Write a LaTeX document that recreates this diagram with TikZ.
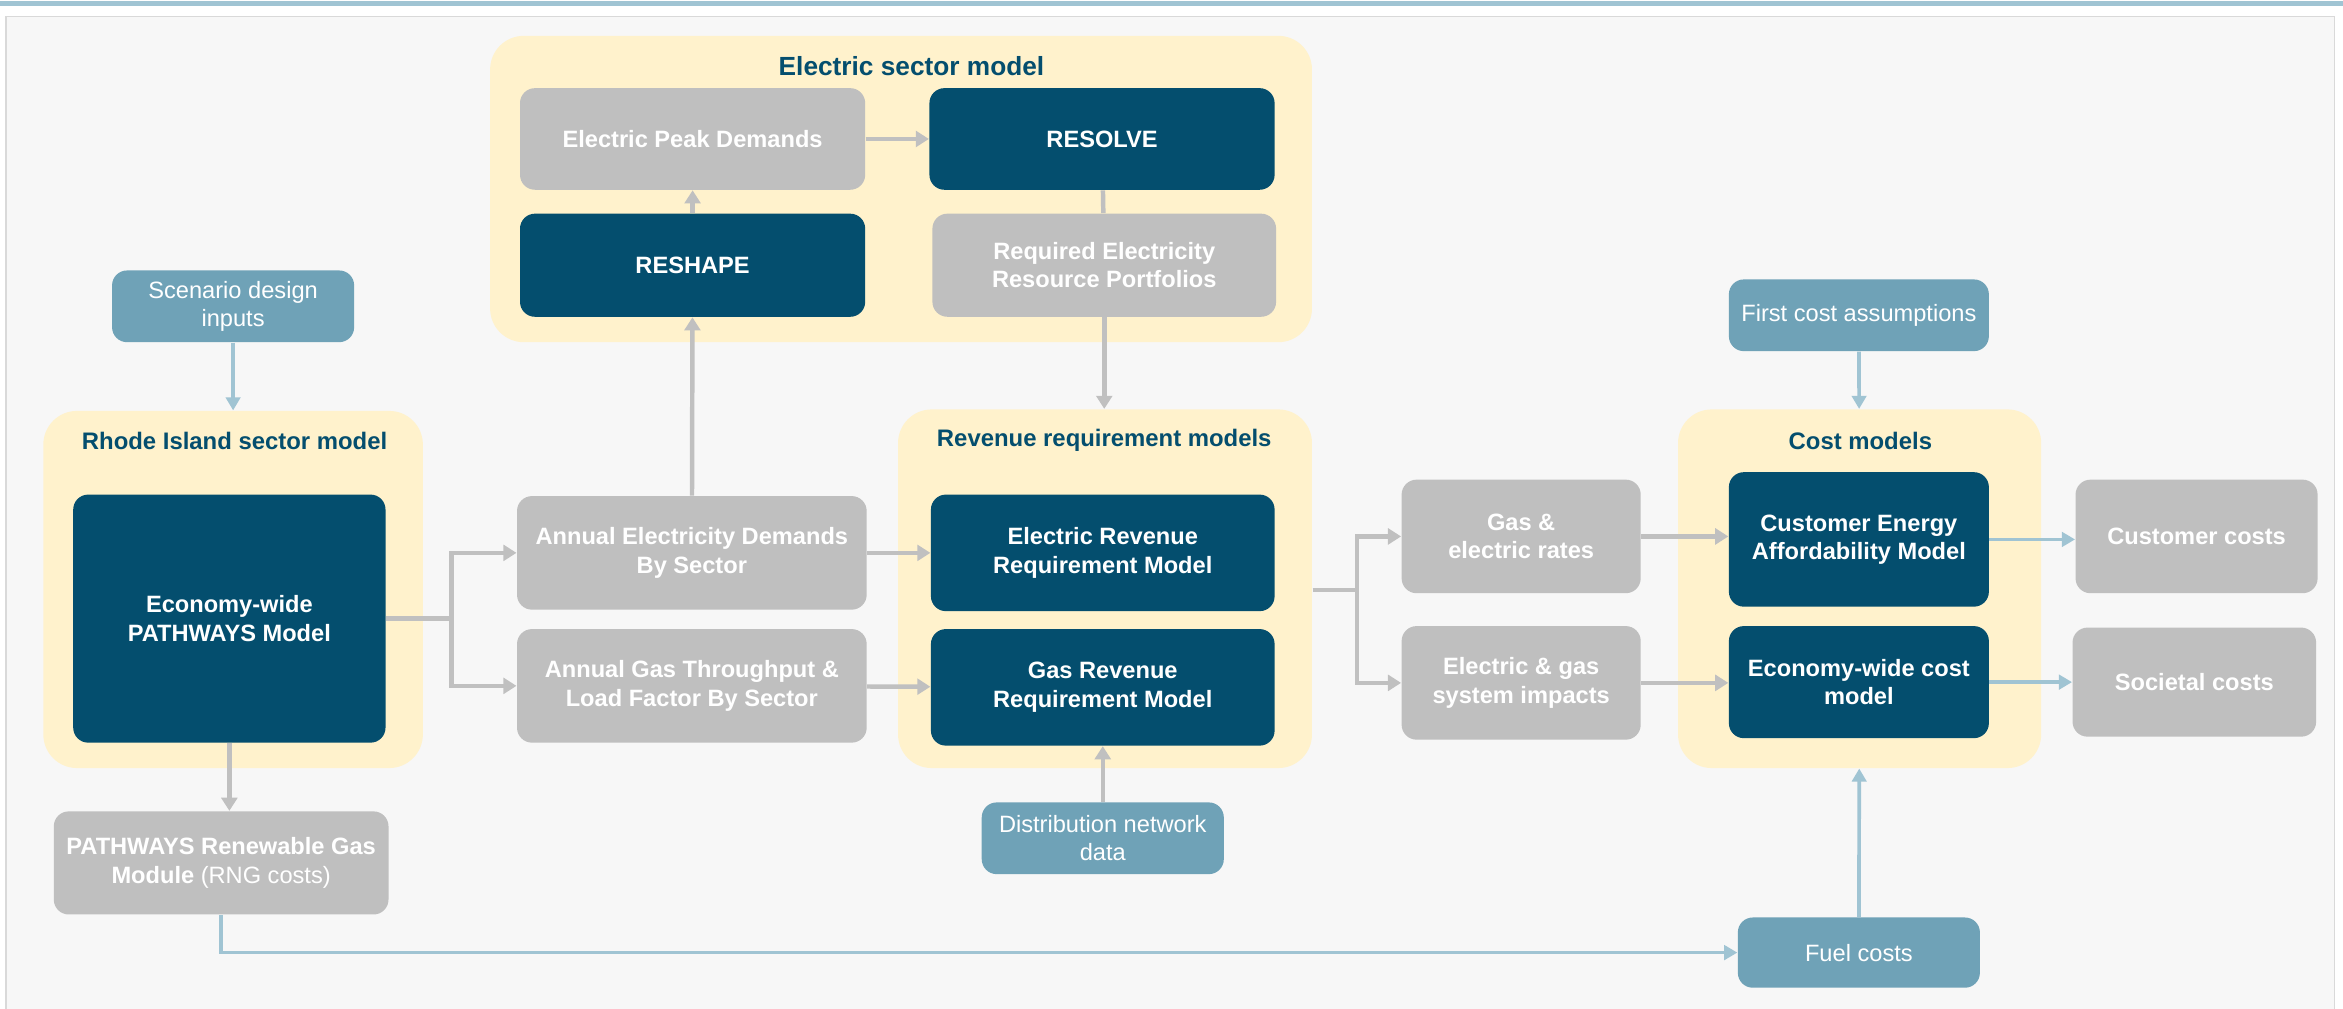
\documentclass[tikz,border=0pt]{standalone}
\usepackage{fontspec}
\setmainfont{Liberation Sans}
\usetikzlibrary{arrows.meta}

\definecolor{navy}{HTML}{044E6E}
\definecolor{boxgray}{HTML}{BFBFBF}
\definecolor{inputblue}{HTML}{6FA2B7}
\definecolor{cream}{HTML}{FFF2CC}
\definecolor{linegray}{HTML}{C0C0C0}
\definecolor{lineblue}{HTML}{A0C4D3}
\definecolor{panelgray}{HTML}{F7F7F7}

\begin{document}
\begin{tikzpicture}[x=0.02cm,y=-0.02cm,
	size/.style 2 args={minimum width=#1*0.02cm,minimum height=#2*0.02cm},
	box/.style={rounded corners=0.2cm,align=center,text=white,inner sep=0pt,
		font=\bfseries\fontsize{9}{10.8}\selectfont},
	model/.style={box,fill=navy},
	result/.style={box,fill=boxgray},
	input/.style={box,fill=inputblue,font=\fontsize{9}{10.8}\selectfont},
	group/.style={fill=cream,rounded corners=0.45cm,inner sep=0pt},
	title/.style={text=navy,font=\bfseries\fontsize{9.1}{11}\selectfont},
	flow/.style={draw=linegray,line width=1.7pt,-{Triangle[width=6pt,length=5pt]}},
	feed/.style={draw=lineblue,line width=1.4pt,-{Triangle[width=5.5pt,length=5pt]}}]
	\useasboundingbox (0,0) rectangle (1568,675);
	\draw[lineblue,line width=2pt] (0,2.5) -- (1568,2.5);
	\draw[draw=black!15,fill=panelgray] (4,11) rectangle (1562,680);

	\node[group,size={550}{205}] (elecgroup) at (603,126.5) {};
	\node[title,font=\bfseries\fontsize{10}{12}\selectfont] (electitle) at (610,44) {Electric sector model};
	\node[group,size={254}{239}] (rigroup) at (156,394.5) {};
	\node[title] (rititle) at (157,295) {Rhode Island sector model};
	\node[group,size={277}{240}] (revgroup) at (739.5,394) {};
	\node[title] (revtitle) at (739,295) {Revenue requirement models};
	\node[group,size={243}{240}] (costgroup) at (1244.5,394) {};
	\node[title] (costtitle) at (1245,295) {Cost models};

	\node[result,size={231}{68}] (peak) at (463.5,93) {Electric Peak Demands};
	\node[model,size={231}{68}] (resolve) at (737.5,93) {RESOLVE};
	\node[model,size={231}{69}] (reshape) at (463.5,177.5) {RESHAPE};
	\node[result,size={230}{69}] (portfolios) at (739,177.5) {Required Electricity\\Resource Portfolios};
	\node[input,size={162}{48}] (scenario) at (156,205) {Scenario design\\inputs};
	\node[model,size={209}{166}] (pathways) at (153.5,414) {Economy-wide\\PATHWAYS Model};
	\node[result,size={224}{69}] (rng) at (148,577.5) {PATHWAYS Renewable Gas\\Module {\mdseries(RNG costs)}};
	\node[result,size={234}{76}] (elecdemand) at (463,370) {Annual Electricity Demands\\By Sector};
	\node[result,size={234}{76}] (gasdemand) at (463,459) {Annual Gas Throughput \&\\Load Factor By Sector};
	\node[model,size={230}{78}] (elecrev) at (738,370) {Electric Revenue\\Requirement Model};
	\node[model,size={230}{78}] (gasrev) at (738,460) {Gas Revenue\\Requirement Model};
	\node[input,size={162}{48}] (network) at (738,561) {Distribution network\\data};
	\node[result,size={160}{76}] (rates) at (1018,359) {Gas \&\\electric rates};
	\node[result,size={160}{76}] (impacts) at (1018,457) {Electric \& gas\\system impacts};
	\node[model,size={174}{90}] (afford) at (1244,361) {Customer Energy\\Affordability Model};
	\node[model,size={174}{75}] (econcost) at (1244,456.5) {Economy-wide cost\\model};
	\node[input,size={174}{48}] (firstcost) at (1244,211) {First cost assumptions};
	\node[result,size={162}{76}] (customer) at (1470,359) {Customer costs};
	\node[result,size={163}{73}] (societal) at (1468.5,456.5) {Societal costs};
	\node[input,size={162}{47}] (fuel) at (1244,637.5) {Fuel costs};

	\coordinate (split1) at (302,414);
	\coordinate (split2) at (908,395);

	\draw[flow] (peak) -- (resolve);
	\draw[flow] (reshape) -- (peak);
	\draw[draw=linegray,line width=1.7pt] (resolve) -- (portfolios);
	\draw[flow] (portfolios.south) -- (portfolios.south |- revgroup.north);
	\draw[feed] (scenario) -- (rigroup);
	\draw[draw=linegray,line width=1.7pt] (pathways.east) -- (split1);
	\draw[flow] (split1) |- (elecdemand.west);
	\draw[flow] (split1) |- (gasdemand.west);
	\draw[flow] (elecdemand) -- (reshape);
	\draw[flow] (elecdemand) -- (elecrev);
	\draw[flow] (gasdemand) -- (gasrev);
	\draw[flow] (network) -- (gasrev);
	\draw[flow] (pathways.south) -- (pathways.south |- rng.north);
	\draw[draw=linegray,line width=1.7pt] (revgroup.east |- split2) -- (split2);
	\draw[flow] (split2) |- (rates.west);
	\draw[flow] (split2) |- (impacts.west);
	\draw[flow] (rates.east) -- (rates.east -| afford.west);
	\draw[flow] (impacts.east) -- (impacts.east -| econcost.west);
	\draw[feed] (afford.east) -- (afford.east -| customer.west);
	\draw[feed] (econcost.east) -- (econcost.east -| societal.west);
	\draw[feed] (firstcost) -- (costgroup);
	\draw[feed] (fuel) -- (costgroup);
	\draw[feed] (rng.south) |- (fuel.west);
\end{tikzpicture}
\end{document}
